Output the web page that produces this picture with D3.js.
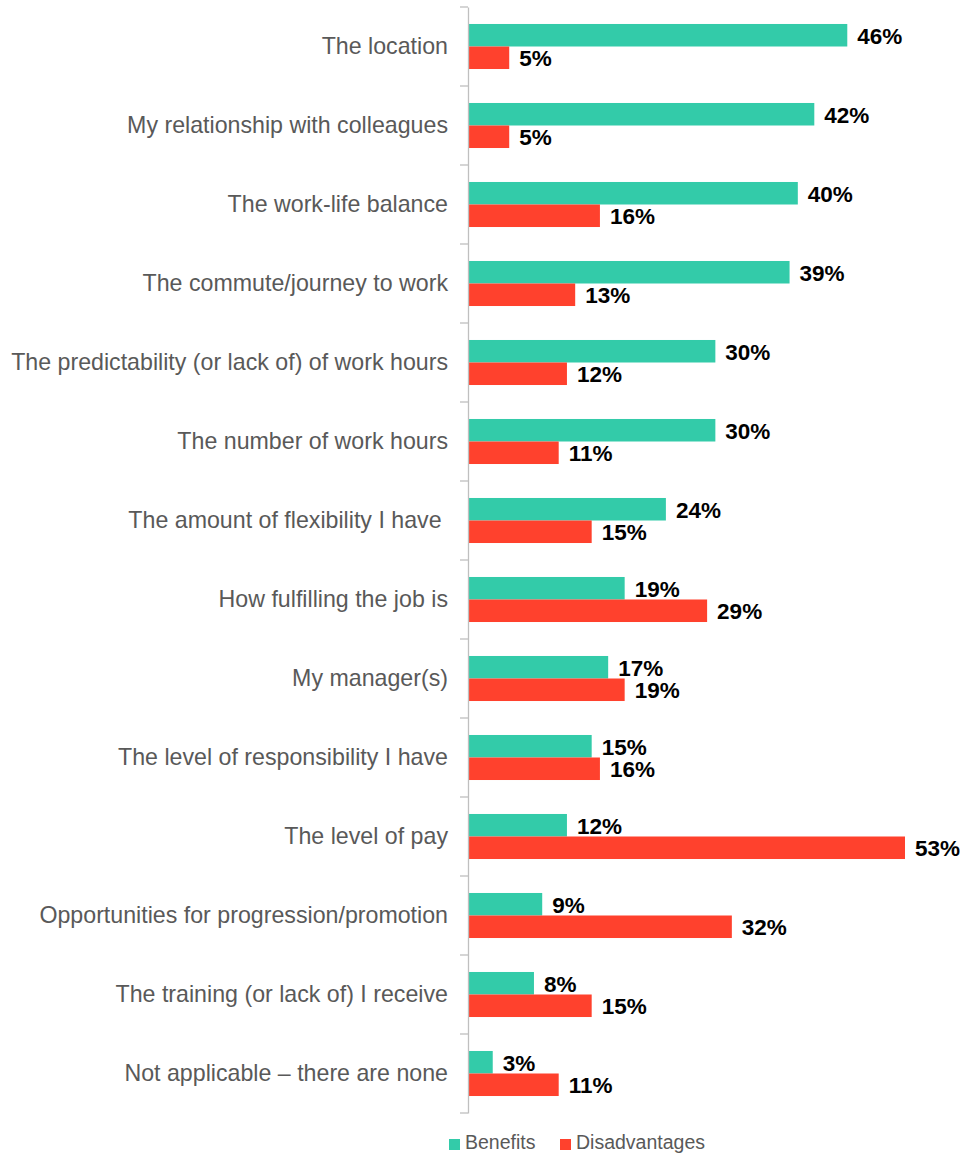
<!DOCTYPE html>
<html>
<head>
<meta charset="utf-8">
<script src="https://cdn.jsdelivr.net/npm/d3@7"></script>
<style>
  html, body { margin: 0; padding: 0; background: #fff; }
  svg { display: block; font-family: "Liberation Sans", Arial, sans-serif; }
  .cat { white-space: pre; }
</style>
</head>
<body>
<svg id="chart" width="960" height="1155"></svg>
<script>
// Benefits and disadvantages of the current job, % of respondents
const categories = [
  "The location",
  "My relationship with colleagues",
  "The work-life balance",
  "The commute/journey to work",
  "The predictability (or lack of) of work hours",
  "The number of work hours",
  "The amount of flexibility I have ",
  "How fulfilling the job is",
  "My manager(s)",
  "The level of responsibility I have",
  "The level of pay",
  "Opportunities for progression/promotion",
  "The training (or lack of) I receive",
  "Not applicable \u2013 there are none"
];
const benefits      = [46, 42, 40, 39, 30, 30, 24, 19, 17, 15, 12, 9, 8, 3];
const disadvantages = [5, 5, 16, 13, 12, 11, 15, 29, 19, 16, 53, 32, 15, 11];
const seriesNames = ["Benefits", "Disadvantages"];
const seriesColors = ["#33CBA9", "#FF412D"];

const rows = categories.map((c, i) => ({
  category: c,
  values: [
    { key: seriesNames[0], value: benefits[i] },
    { key: seriesNames[1], value: disadvantages[i] }
  ]
}));

const svg = d3.select("#chart");
const axisX = 468;

const x = d3.scaleLinear().domain([0, 53]).range([axisX, 905]);
const y = d3.scaleBand().domain(categories).range([7, 1113]).padding(0);
const bandH = y.bandwidth();
const ySeries = d3.scaleBand().domain(seriesNames)
  .range([bandH * 0.215, bandH * 0.785]).padding(0);
const color = d3.scaleOrdinal().domain(seriesNames).range(seriesColors);

// bars
const groups = svg.append("g").selectAll("g")
  .data(rows).join("g")
  .attr("transform", d => `translate(0,${y(d.category)})`);

groups.selectAll("rect")
  .data(d => d.values).join("rect")
  .attr("x", x(0))
  .attr("y", d => ySeries(d.key))
  .attr("width", d => x(d.value) - x(0))
  .attr("height", ySeries.bandwidth())
  .attr("fill", d => color(d.key));

groups.selectAll("text.val")
  .data(d => d.values).join("text")
  .attr("class", "val")
  .attr("x", d => x(d.value) + 10)
  .attr("y", d => ySeries(d.key) + ySeries.bandwidth() / 2)
  .attr("dy", "0.37em")
  .attr("font-size", 22.5)
  .attr("font-weight", "bold")
  .attr("fill", "#000")
  .text(d => d.value + "%");

// category axis
const axis = d3.axisLeft(y).tickSize(0).tickPadding(20);
const gAxis = svg.append("g")
  .attr("transform", `translate(${axisX},0)`)
  .call(axis);
gAxis.select(".domain").attr("stroke", "#bfbfbf").attr("stroke-width", 1.3);
gAxis.selectAll(".tick text")
  .attr("class", "cat")
  .attr("font-size", 23.2)
  .attr("font-family", "Liberation Sans, Arial, sans-serif")
  .attr("fill", "#595959");

// boundary ticks between categories
const bounds = categories.map(c => y(c)).concat([y.range()[1]]);
svg.append("g").selectAll("line")
  .data(bounds).join("line")
  .attr("x1", axisX - 8).attr("x2", axisX)
  .attr("y1", d => d).attr("y2", d => d)
  .attr("stroke", "#bfbfbf").attr("stroke-width", 1.3);

// legend
const legend = svg.append("g").attr("transform", "translate(449,1144)");
const legendX = [0, 111];
const items = legend.selectAll("g")
  .data(seriesNames).join("g")
  .attr("transform", (d, i) => `translate(${legendX[i]},0)`);
items.append("rect")
  .attr("x", 0).attr("y", -5).attr("width", 11).attr("height", 11)
  .attr("fill", d => color(d));
items.append("text")
  .attr("x", 16).attr("y", 5)
  .attr("font-size", 19.5).attr("fill", "#595959")
  .text(d => d);
</script>
</body>
</html>
